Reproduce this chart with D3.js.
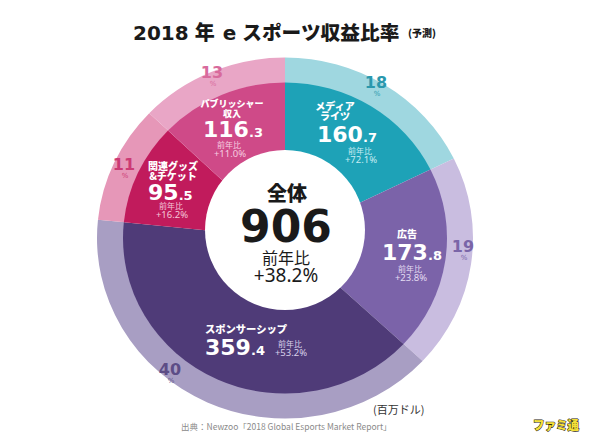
<!DOCTYPE html>
<html>
<head>
<meta charset="utf-8">
<script src="https://cdn.jsdelivr.net/npm/d3@7"></script>
<style>
  html, body { margin: 0; padding: 0; background: #ffffff; }
  svg { display: block; }
</style>
</head>
<body>
<svg id="chart" width="590" height="441"></svg>
<script>
// ---------- data ----------
const categories = ["メディアライツ", "広告", "スポンサーシップ", "関連グッズ&チケット", "パブリッシャー収入"];
const labelLines = [["メディア", "ライツ"], ["広告"], ["スポンサーシップ"], ["関連グッズ", "&チケット"], ["パブリッシャー", "収入"]];
const values = [160.7, 173.8, 359.4, 95.5, 116.3];
const percents = [18, 19, 40, 11, 13];
const growth = ["+72.1%", "+23.8%", "+53.2%", "+16.2%", "+11.0%"];
const totalValue = 906;
const totalGrowth = "+38.2%";

// ---------- styles / layout ----------
const pieColors  = ["#1ea2b7", "#7b63a9", "#4f3b78", "#c11b5c", "#cf4a88"];
const ringColors = ["#9fd7e0", "#c9bde0", "#a89ec3", "#e697b8", "#e9a6c6"];
const pctColors  = ["#2a98ad", "#7a65a8", "#5d4d86", "#cc3a74", "#d86a9c"];
const subColors  = ["#c8ecf2", "#e4dcf2", "#d8d0ea", "#f4c4d8", "#f6cde0"];
const layout = [
  {lx: 335, ly: 110, ls: 10, nx: 317, ny: 142, gx: 360, gy: 154},
  {lx: 407, ly: 238, ls: 10, nx: 382, ny: 260, gx: 410, gy: 272},
  {lx: 246, ly: 333, ls: 10.3, nx: 205, ny: 355, gx: 290, gy: 347},
  {lx: 173, ly: 170, ls: 10, nx: 148, ny: 200, gx: 171, gy: 209},
  {lx: 232, ly: 107, ls: 9, nx: 203, ny: 137, gx: 229, gy: 148}
];
const pctPos = [[376, 88], [463, 252], [170, 375], [124, 170], [212, 78]];

const cx = 285, cy = 238, sy = 0.96;
const rPie = 162, rOuter = 188;
const NUM = "'DejaVu Sans', sans-serif";
const JP = "'Noto Sans CJK JP', sans-serif";
const LAT = "'Noto Sans', sans-serif";

const svg = d3.select("#chart");

// ---------- shapes ----------
const pie = d3.pie().sort(null).value(d => d)(values);
const shapes = svg.append("g").attr("transform", `translate(${cx},${cy}) scale(1,${sy})`);
const ringArc = d3.arc().innerRadius(rPie - 1).outerRadius(rOuter);
const pieArc = d3.arc().innerRadius(0).outerRadius(rPie);

shapes.selectAll("path.ring").data(pie).join("path")
  .attr("class", "ring").attr("d", ringArc)
  .attr("fill", (d, i) => ringColors[i]);
shapes.selectAll("path.slice").data(pie).join("path")
  .attr("class", "slice").attr("d", pieArc)
  .attr("fill", (d, i) => pieColors[i]);

svg.append("circle").attr("cx", cx).attr("cy", 230).attr("r", 80).attr("fill", "#ffffff");

// ---------- title ----------
const title = svg.append("text").attr("x", 133).attr("y", 40)
  .attr("font-weight", "900").attr("fill", "#1a1a1a");
title.append("tspan").attr("font-family", NUM).attr("font-size", 20).attr("font-weight", "bold").text("2018");
title.append("tspan").attr("font-family", JP).attr("font-size", 20).attr("dx", 6).text("年");
title.append("tspan").attr("font-family", NUM).attr("font-size", 20).attr("font-weight", "bold").attr("dx", 8).text("e");
title.append("tspan").attr("font-family", JP).attr("font-size", 19.7).attr("dx", 6).text("スポーツ収益比率");
title.append("tspan").attr("font-family", JP).attr("font-size", 10).attr("x", 408).attr("y", 37).text("(予測)");

// ---------- percent labels ----------
percents.forEach((p, i) => {
  const [x, y] = pctPos[i];
  const t = svg.append("text").attr("text-anchor", "middle").attr("fill", pctColors[i]).attr("font-family", NUM);
  t.append("tspan").attr("x", x).attr("y", y).attr("font-weight", "bold").attr("font-size", 16).text(p);
  t.append("tspan").attr("x", x + 1).attr("y", y + 8).attr("font-size", 7).text("%");
});

// ---------- segment labels ----------
values.forEach((v, i) => {
  const L = layout[i];
  const t = svg.append("text").attr("fill", "#ffffff");
  labelLines[i].forEach((line, j) => {
    t.append("tspan").attr("x", L.lx).attr("y", L.ly + j * 10).attr("text-anchor", "middle")
      .attr("font-family", JP).attr("font-weight", "900").attr("font-size", L.ls).text(line);
  });
  const parts = v.toFixed(1).split(".");
  t.append("tspan").attr("x", L.nx).attr("y", L.ny).attr("text-anchor", "start")
    .attr("font-family", NUM).attr("font-weight", "bold").attr("font-size", 22).text(parts[0]);
  t.append("tspan").attr("font-family", NUM).attr("font-weight", "bold").attr("font-size", 13).text("." + parts[1]);
  t.append("tspan").attr("x", L.gx).attr("y", L.gy).attr("text-anchor", "middle")
    .attr("font-family", JP).attr("font-size", 8).attr("fill", subColors[i]).text("前年比");
  t.append("tspan").attr("x", L.gx + 1).attr("y", L.gy + 9).attr("text-anchor", "middle")
    .attr("font-family", LAT).attr("font-size", 9.5).attr("fill", subColors[i]).text(growth[i]);
});

// ---------- center ----------
const c = svg.append("text").attr("text-anchor", "middle").attr("fill", "#1a1a1a");
c.append("tspan").attr("x", 287).attr("y", 201)
  .attr("font-family", JP).attr("font-weight", "900").attr("font-size", 20).text("全体");
c.append("tspan").attr("x", 286).attr("y", 242)
  .attr("font-family", NUM).attr("font-weight", "bold").attr("font-size", 44).text(totalValue);
c.append("tspan").attr("x", 286).attr("y", 264)
  .attr("font-family", JP).attr("font-size", 16).text("前年比");
c.append("tspan").attr("x", 286).attr("y", 282)
  .attr("font-family", LAT).attr("font-size", 19).text(totalGrowth);

// ---------- footer ----------
svg.append("text").attr("x", 373).attr("y", 414)
  .attr("font-family", JP).attr("font-size", 11).attr("fill", "#333333").text("(百万ドル)");
svg.append("text").attr("x", 181).attr("y", 430)
  .attr("font-family", JP).attr("font-size", 8.5).attr("fill", "#8a8a8a")
  .text("出典：Newzoo「2018 Global Esports Market Report」");
svg.append("text").attr("x", 533).attr("y", 430)
  .attr("font-family", JP).attr("font-weight", "900").attr("font-size", 12)
  .attr("textLength", 46).attr("lengthAdjust", "spacingAndGlyphs")
  .attr("fill", "#f4e03a").attr("stroke", "#2a2410").attr("stroke-width", 1.1)
  .attr("paint-order", "stroke").text("ファミ通");
</script>
</body>
</html>
